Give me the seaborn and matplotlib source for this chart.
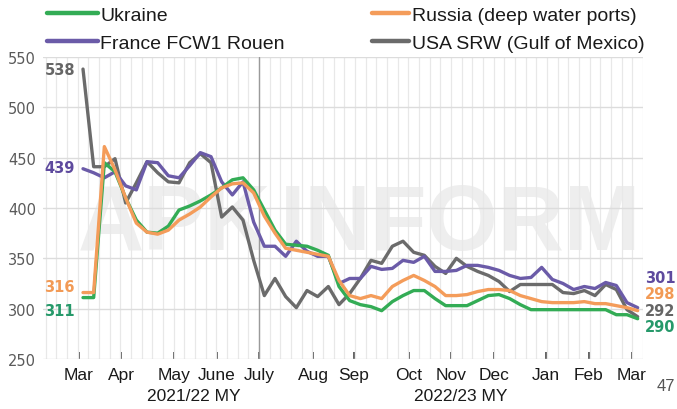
import numpy as np
import pandas as pd
import seaborn as sns
import matplotlib.pyplot as plt
from matplotlib.lines import Line2D
from matplotlib.ticker import FixedLocator

# weekly export prices, USD/t, March 2022 - March 2023
ukraine = [311, 311, 445, 436, 410, 388, 376, 375, 382, 398, 402, 407, 413, 420, 428, 430,
           418, 398, 378, 364, 363, 362, 358, 353, 322, 308, 304, 302, 298, 307, 313, 318,
           318, 310, 303, 303, 303, 308, 313, 314, 310, 304, 299, 299, 299, 299, 299, 299,
           299, 299, 294, 294, 290]
russia = [316, 316, 461, 438, 410, 385, 376, 374, 378, 388, 394, 401, 411, 420, 424, 425,
          415, 392, 375, 360, 358, 356, 354, 352, 328, 313, 310, 313, 310, 322, 328, 333,
          328, 322, 313, 313, 314, 317, 319, 319, 318, 313, 310, 307, 306, 306, 306, 307,
          305, 305, 303, 301, 298]
france = [439, 435, 430, 436, 422, 418, 446, 445, 432, 430, 442, 455, 451, 426, 413, 426,
          386, 362, 362, 352, 367, 357, 352, 352, 325, 330, 330, 342, 339, 340, 348, 346,
          352, 337, 337, 338, 343, 343, 341, 338, 333, 330, 331, 341, 329, 325, 319, 322,
          320, 326, 323, 306, 301]
usa = [538, 441, 441, 449, 405, 425, 446, 435, 426, 425, 445, 454, 445, 391, 401, 388,
       348, 313, 330, 312, 301, 318, 312, 322, 304, 315, 330, 348, 345, 362, 367, 356,
       353, 342, 335, 350, 342, 337, 333, 327, 317, 324, 324, 324, 324, 316, 315, 318,
       313, 324, 319, 299, 292]

names = ["Ukraine", "Russia (deep water ports)", "France FCW1 Rouen", "USA SRW (Gulf of Mexico)"]
months = ["Mar", "Apr", "May", "June", "July", "Aug", "Sep", "Oct", "Nov", "Dec", "Jan", "Feb", "Mar"]
seasons = ["2021/22 MY", "2022/23 MY"]

colors = {names[0]: "#33ac55", names[1]: "#f49c5a", names[2]: "#6b5ba8", names[3]: "#6b6b6b"}
label_colors = {names[0]: "#26996a", names[1]: "#f29a55", names[2]: "#5e4a9e", names[3]: "#666666"}

series = [ukraine, russia, france, usa]
n = len(ukraine)
weeks = np.arange(n)
df = pd.DataFrame({
    "week": np.tile(weeks, len(names)),
    "price": np.concatenate(series),
    "origin": np.repeat(names, n),
})

sns.set_theme(style="white")
plt.rcParams["font.family"] = ["DejaVu Sans"]

fig = plt.figure(figsize=(6.77, 4.10), dpi=100)
ax = fig.add_axes([43 / 677, 50 / 410, 600 / 677, 302 / 410])
ax.set_facecolor("none")

# faint watermark behind the plot
fig.text(78 / 677, 1 - 250 / 410, "APK", fontsize=66, fontweight="bold", family="Liberation Sans",
         color="#eeeeee", zorder=-1)
fig.text(280 / 677, 1 - 250 / 410, "INFORM", fontsize=66, fontweight="bold", family="Liberation Sans",
         color="#eeeeee", zorder=-1)

sns.lineplot(data=df, x="week", y="price", hue="origin",
             hue_order=[names[3], names[2], names[0], names[1]],
             palette=colors, linewidth=2.4, legend=False, ax=ax)

ax.set_xlim(-3.75, 52.5)
ax.set_ylim(250, 550)
ax.set_yticks(range(250, 551, 50))
month_pos = [-0.37, 3.56, 8.53, 12.56, 16.49, 21.56, 25.4, 30.55, 34.49, 38.52, 43.39, 47.42, 51.45]
ax.set_xticks(month_pos)
ax.set_xticklabels(months, family="Liberation Sans", fontsize=12.5, color="#1a1a1a")
ax.xaxis.set_minor_locator(FixedLocator(np.arange(-3.5, 52.6, 1)))
ax.grid(axis="y", which="major", color="#dcdcdc", linewidth=1)
ax.grid(axis="x", which="minor", color="#e8e8e8", linewidth=0.9)
ax.tick_params(axis="x", which="major", direction="in", length=5, width=1.3, color="#555555", pad=6, bottom=True)
ax.tick_params(axis="x", which="minor", length=0)
ax.tick_params(axis="y", length=0, pad=5, labelsize=10.5, labelcolor="#5a5a5a")
for s in ax.spines.values():
    s.set_visible(False)
ax.set_xlabel("")
ax.set_ylabel("")

# marketing year separator
ax.axvline(month_pos[4], color="#9a9a9a", linewidth=1, zorder=1)

# first values on the left
first_offsets = {names[0]: -13, names[1]: 6, names[2]: 1, names[3]: 0}
for name, vals in zip(names, series):
    ax.annotate(str(vals[0]), xy=(0, vals[0]), xytext=(-8, first_offsets[name]),
                textcoords="offset pixels", ha="right", va="center",
                fontsize=10.5, fontweight="bold", color=label_colors[name])

# last values on the right, stacked
right_order = [names[2], names[1], names[3], names[0]]
for k, name in enumerate(right_order):
    vals = series[names.index(name)]
    ax.text(1.003, 0.2715 - k * 0.055, str(vals[-1]), transform=ax.transAxes,
            ha="left", va="center", fontsize=10.5, fontweight="bold", color=label_colors[name])

fig.text(194 / 677, 1 - 397 / 410, seasons[0], ha="center", va="center",
         family="Liberation Sans", fontsize=12.5, color="#1a1a1a")
fig.text(461 / 677, 1 - 397 / 410, seasons[1], ha="center", va="center",
         family="Liberation Sans", fontsize=12.5, color="#1a1a1a")
fig.text(657 / 677, 1 - 387 / 410, "47", ha="left", va="center",
         family="Liberation Sans", fontsize=12, color="#555555")

# legend in two columns
def handle(name):
    return Line2D([], [], color=colors[name], linewidth=3.2)

leg_kw = dict(frameon=False, loc="upper left", borderpad=0, borderaxespad=0,
              handletextpad=0.15, labelspacing=0.55,
              prop={"family": "Liberation Sans", "size": 14})
leg1 = fig.legend([handle(names[0]), handle(names[2])], [names[0], names[2]],
                  bbox_to_anchor=(47 / 677, 1 - 7 / 410), handlelength=2.6, **leg_kw)
leg2 = fig.legend([handle(names[1]), handle(names[3])], [names[1], names[3]],
                  bbox_to_anchor=(372 / 677, 1 - 7 / 410), handlelength=1.9, **leg_kw)
for leg in (leg1, leg2):
    for t in leg.get_texts():
        t.set_color("#1a1a1a")

fig.savefig("out.png", dpi=100)
